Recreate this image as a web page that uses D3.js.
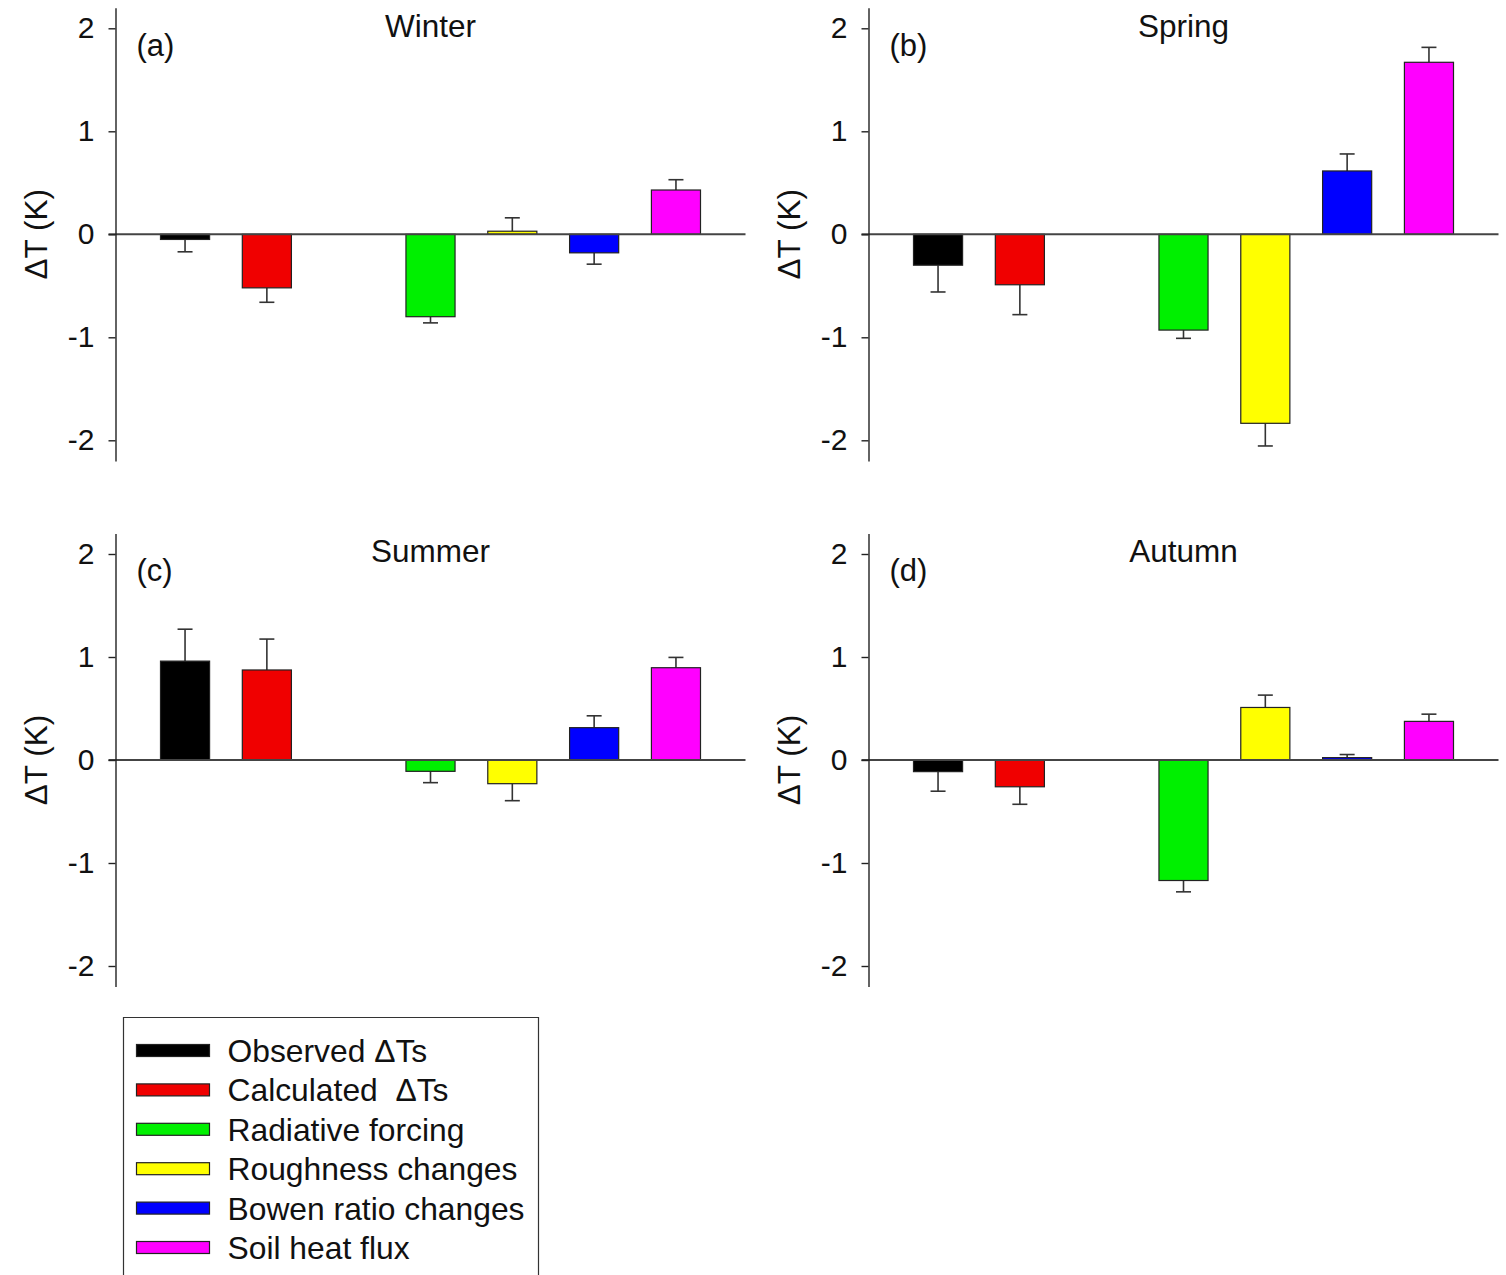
<!DOCTYPE html>
<html>
<head>
<meta charset="utf-8">
<script src="https://cdn.jsdelivr.net/npm/d3@7"></script>
<style>
  html, body { margin: 0; padding: 0; background: #fff; }
  svg { display: block; font-family: "Liberation Sans", Arial, sans-serif; }
</style>
</head>
<body>
<svg id="chart" width="1506" height="1275"></svg>
<script>
// Contributions to the surface temperature change, by season
const seriesNames = ["Observed \u0394Ts", "Calculated  \u0394Ts", "Radiative forcing",
                     "Roughness changes", "Bowen ratio changes", "Soil heat flux"];
const seriesColors = ["#000000", "#f00000", "#00f000", "#ffff00", "#0000ff", "#ff00ff"];
// x slots: one empty slot separates the two \u0394Ts bars from the components
const slotIndex = [0, 1, 3, 4, 5, 6];
const slotCount = 7;

const seasons = ["Winter", "Spring", "Summer", "Autumn"];
const panelTags = ["(a)", "(b)", "(c)", "(d)"];

const winterValues = [-0.05, -0.52, -0.80, 0.03, -0.18, 0.43];
const winterErrors = [0.12, 0.14, 0.06, 0.13, 0.11, 0.10];
const springValues = [-0.30, -0.49, -0.93, -1.835, 0.615, 1.67];
const springErrors = [0.26, 0.29, 0.08, 0.22, 0.165, 0.145];
const summerValues = [0.96, 0.874, -0.11, -0.23, 0.314, 0.896];
const summerErrors = [0.31, 0.30, 0.11, 0.165, 0.115, 0.10];
const autumnValues = [-0.113, -0.26, -1.17, 0.51, 0.023, 0.375];
const autumnErrors = [0.19, 0.17, 0.11, 0.12, 0.03, 0.07];

const yTicks = [-2, -1, 0, 1, 2];
const yDomain = [-2.2, 2.2];
const yLabel = "\u0394T (K)";

const panelValues = [winterValues, springValues, summerValues, autumnValues];
const panelErrors = [winterErrors, springErrors, summerErrors, autumnErrors];

const svg = d3.select("#chart");

// layout of the 2 x 2 grid
const plotW = 630, plotH = 453.2;
const colX = [115.5, 868.5];
const rowTop = [7.7, 533.4];

seasons.forEach((season, i) => {
  const x0 = colX[i % 2];
  const y0 = rowTop[Math.floor(i / 2)];
  const g = svg.append("g").attr("transform", `translate(${x0},${y0})`);

  const x = d3.scaleBand()
    .domain(d3.range(slotCount))
    .range([0, plotW])
    .paddingInner(0.4)
    .paddingOuter(0.55);
  const y = d3.scaleLinear().domain(yDomain).range([plotH, 0]);

  const vals = panelValues[i];
  const errs = panelErrors[i];
  const rows = vals.map((v, k) => ({ v, e: errs[k], slot: slotIndex[k], color: seriesColors[k] }));

  // error bars (one-sided, away from zero)
  const eb = g.append("g").attr("stroke", "#333").attr("stroke-width", 1.6).attr("fill", "none");
  rows.forEach(r => {
    const cx = x(r.slot) + x.bandwidth() / 2;
    const end = r.v >= 0 ? r.v + r.e : r.v - r.e;
    eb.append("line").attr("x1", cx).attr("x2", cx).attr("y1", y(r.v)).attr("y2", y(end));
    eb.append("line").attr("x1", cx - 7.5).attr("x2", cx + 7.5).attr("y1", y(end)).attr("y2", y(end));
  });

  // bars
  g.append("g").selectAll("rect").data(rows).join("rect")
    .attr("x", r => x(r.slot))
    .attr("width", x.bandwidth())
    .attr("y", r => y(Math.max(0, r.v)))
    .attr("height", r => Math.abs(y(r.v) - y(0)))
    .attr("fill", r => r.color)
    .attr("stroke", "#222")
    .attr("stroke-width", 1.2);

  // zero line
  g.append("line")
    .attr("x1", -7).attr("x2", plotW)
    .attr("y1", y(0)).attr("y2", y(0))
    .attr("stroke", "#444").attr("stroke-width", 2);

  // y axis (hyphen-minus for negative ticks)
  const axis = g.append("g")
    .call(d3.axisLeft(y).tickValues(yTicks).tickFormat(d => String(d))
      .tickSize(7).tickSizeOuter(0).tickPadding(14));
  axis.select(".domain").attr("stroke", "#222").attr("stroke-width", 1.4);
  axis.selectAll(".tick line").attr("stroke", "#222").attr("stroke-width", 1.4);
  axis.selectAll(".tick text")
    .attr("font-size", 30).attr("fill", "#111")
    .attr("font-family", "'Liberation Sans', Arial, sans-serif");

  // axis title
  g.append("text")
    .attr("transform", `translate(${-80},${y(0)}) rotate(-90)`)
    .attr("text-anchor", "middle")
    .attr("dy", "0.35em")
    .attr("font-size", 31.5)
    .attr("fill", "#111")
    .text(yLabel);

  // season title and panel tag
  g.append("text")
    .attr("x", plotW / 2).attr("y", 29)
    .attr("text-anchor", "middle")
    .attr("font-size", 31.5).attr("fill", "#111")
    .text(season);
  g.append("text")
    .attr("x", 21).attr("y", 48)
    .attr("font-size", 31).attr("fill", "#111")
    .text(panelTags[i]);
});

// legend
const legend = svg.append("g").attr("transform", "translate(123.5,1017.5)");
legend.append("path")
  .attr("d", "M0,270 V0 H415 V270")
  .attr("fill", "none").attr("stroke", "#333").attr("stroke-width", 1.2);
const rowStep = 39.4;
seriesNames.forEach((name, k) => {
  const cy = 33 + k * rowStep;
  legend.append("rect")
    .attr("x", 13).attr("y", cy - 6)
    .attr("width", 73).attr("height", 12)
    .attr("fill", seriesColors[k]).attr("stroke", "#222").attr("stroke-width", 1.2);
  legend.append("text")
    .attr("x", 104).attr("y", cy)
    .attr("dy", "0.36em")
    .attr("font-size", 31.8).attr("fill", "#111")
    .attr("xml:space", "preserve")
    .style("white-space", "pre")
    .text(name);
});
</script>
</body>
</html>
